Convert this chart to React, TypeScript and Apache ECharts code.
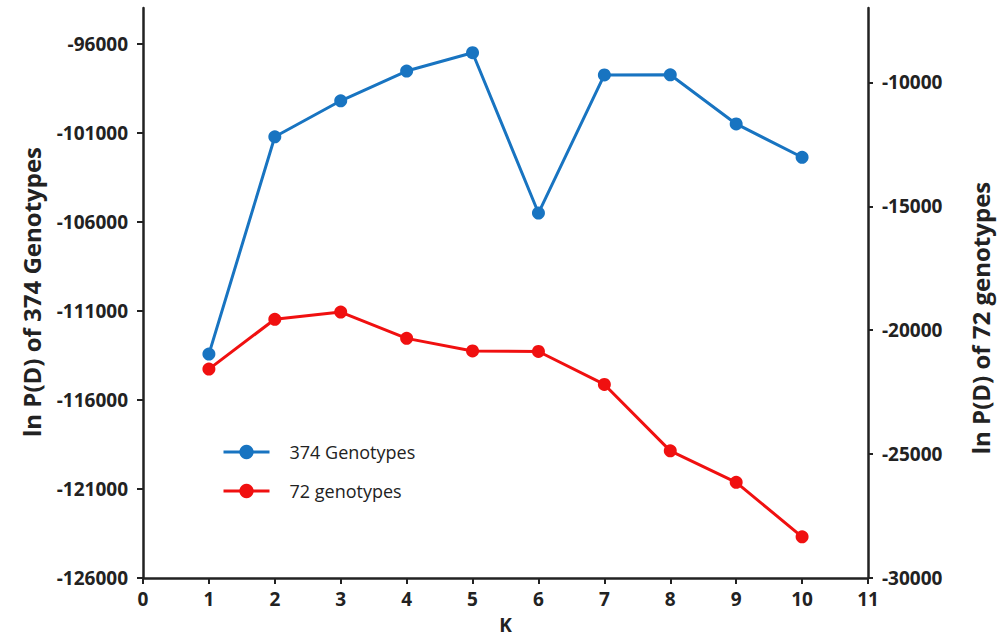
import React, { useEffect, useRef } from "react";
import * as echarts from "echarts";

const kValues = [1, 2, 3, 4, 5, 6, 7, 8, 9, 10];
const genotypes374 = [-113430, -101230, -99210, -97540, -96510, -105510, -97760, -97750, -100510, -102380];
const genotypes72 = [-21570, -19560, -19270, -20330, -20840, -20860, -22190, -24870, -26140, -28340];
const leftTicks = [-126000, -121000, -116000, -111000, -106000, -101000, -96000];
const rightTicks = [-30000, -25000, -20000, -15000, -10000];
const xTicks = [0, 1, 2, 3, 4, 5, 6, 7, 8, 9, 10, 11];
const leftTitle = "ln P(D) of 374 Genotypes";
const rightTitle = "ln P(D) of 72 genotypes";

const FONT = "'Open Sans', 'DejaVu Sans', sans-serif";
const BLUE = "#1874c1";
const RED = "#f01010";
const INK = "#222";

export default function App() {
  const ref = useRef<HTMLDivElement>(null);
  useEffect(() => {
    if (!ref.current) return;
    const chart = echarts.init(ref.current, undefined, { renderer: "svg" });
    const axisLine = { show: true, lineStyle: { color: INK, width: 2.5 } };
    const labelStyle = { fontFamily: FONT, fontSize: 19, fontWeight: "bold", color: INK };
    const fmt = (v: number) => String(v);
    chart.setOption({
      animation: false,
      backgroundColor: "#fff",
      grid: { left: 143, right: 132, top: 8, bottom: 62, outerBoundsMode: "none", containLabel: false },
      legend: {
        orient: "vertical",
        left: 217,
        top: 438,
        itemWidth: 46,
        itemHeight: 18,
        itemGap: 21,
        lineStyle: { width: 3 },
        textStyle: { fontFamily: FONT, fontSize: 18, color: INK, padding: [0, 0, 0, 15] },
        data: ["374 Genotypes", "72 genotypes"],
      },
      graphic: [
        {
          type: "text",
          x: 31,
          y: 292,
          rotation: Math.PI / 2,
          style: { text: leftTitle, fill: INK, font: `bold 24px ${FONT}`, align: "center", verticalAlign: "middle" },
        },
        {
          type: "text",
          x: 980,
          y: 318,
          rotation: Math.PI / 2,
          style: { text: rightTitle, fill: INK, font: `bold 24px ${FONT}`, align: "center", verticalAlign: "middle" },
        },
      ],
      xAxis: {
        type: "value",
        min: 0,
        max: 11,
        interval: 1,
        name: "K",
        nameLocation: "middle",
        nameGap: 37,
        nameTextStyle: { fontFamily: FONT, fontSize: 19, fontWeight: "bold", color: INK },
        axisLine,
        axisTick: { show: true, length: 6, lineStyle: { color: INK, width: 2 } },
        axisLabel: { ...labelStyle, margin: 11, customValues: xTicks, formatter: fmt },
        splitLine: { show: false },
      },
      yAxis: [
        {
          type: "value",
          position: "left",
          min: -126000,
          max: -94000,
          axisLine,
          axisTick: { show: true, length: 6, customValues: leftTicks, lineStyle: { color: INK, width: 2 } },
          axisLabel: { ...labelStyle, margin: 15, customValues: leftTicks, formatter: fmt },
          splitLine: { show: false },
        },
        {
          type: "value",
          position: "right",
          min: -30000,
          max: -7000,
          axisLine,
          axisTick: { show: true, length: 5, customValues: rightTicks, lineStyle: { color: INK, width: 2 } },
          axisLabel: { ...labelStyle, margin: 14, customValues: rightTicks, formatter: fmt },
          splitLine: { show: false },
        },
      ],
      series: [
        {
          name: "374 Genotypes",
          type: "line",
          yAxisIndex: 0,
          data: kValues.map((k, i) => [k, genotypes374[i]]),
          symbol: "circle",
          symbolSize: 13,
          lineStyle: { color: BLUE, width: 3 },
          itemStyle: { color: BLUE },
        },
        {
          name: "72 genotypes",
          type: "line",
          yAxisIndex: 1,
          data: kValues.map((k, i) => [k, genotypes72[i]]),
          symbol: "circle",
          symbolSize: 13,
          lineStyle: { color: RED, width: 3 },
          itemStyle: { color: RED },
        },
      ],
    });
    return () => chart.dispose();
  }, []);
  return <div ref={ref} style={{ width: 1000, height: 640, position: "absolute", left: 0, top: 0 }} />;
}
